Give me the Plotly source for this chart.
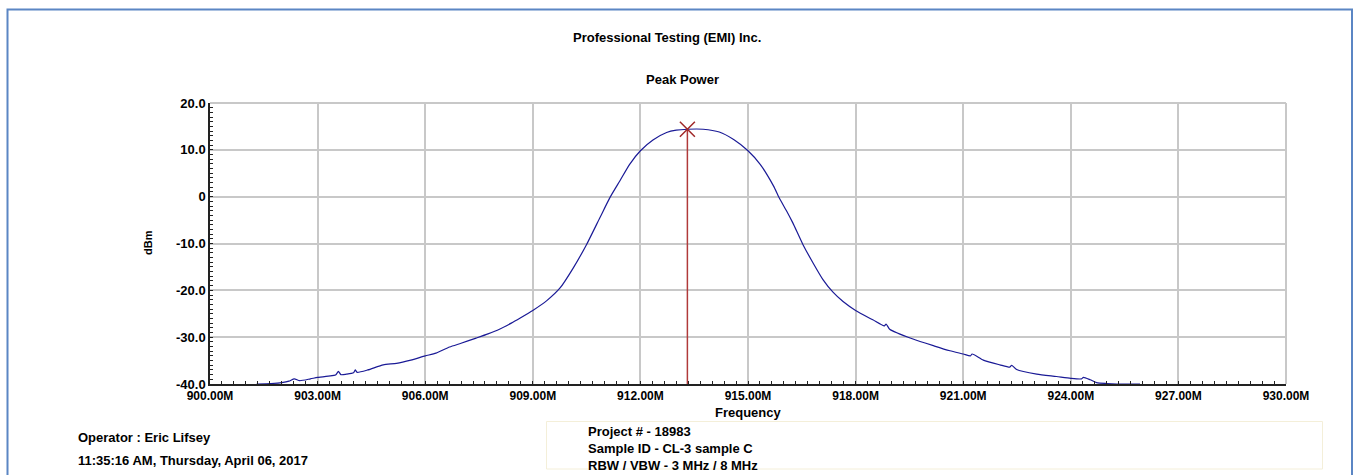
import plotly.graph_objects as go

# ---------------- data ----------------
freq_mhz = [901.3, 901.7, 902.0, 902.2, 902.35, 902.5, 902.8, 903.0, 903.3, 903.5,
            903.58, 903.65, 903.8, 904.0, 904.05, 904.1, 904.4, 904.83, 905.2, 905.6,
            906.0, 906.3, 906.68, 907.0, 907.42, 907.75, 908.07, 908.4, 908.65, 909.0,
            909.39, 909.76, 910.13, 910.5, 910.87, 911.15, 911.43, 911.7, 912.0, 912.35,
            912.73, 913.0, 913.31, 913.75, 914.2, 914.6, 915.0, 915.34, 915.71, 915.88,
            916.08, 916.25, 916.53, 916.81, 917.09, 917.37, 917.65, 918.0, 918.48, 918.8,
            918.85, 918.95, 919.6, 920.2, 920.63, 921.0, 921.2, 921.25, 921.56, 922.02,
            922.3, 922.35, 922.49, 923.05, 923.6, 924.0, 924.3, 924.35, 924.54, 924.72,
            925.0, 925.28, 925.6, 925.93]
power_dbm = [-40.0, -39.9, -39.7, -39.4, -38.9, -39.3, -38.9, -38.6, -38.3, -38.1,
             -37.3, -38.0, -37.9, -37.6, -37.0, -37.5, -37.0, -35.9, -35.6, -34.9,
             -34.0, -33.4, -32.1, -31.3, -30.2, -29.3, -28.3, -27.0, -25.9, -24.3,
             -22.2, -19.5, -15.2, -10.2, -4.5, -0.2, 3.4, 6.9, 9.8, 12.1,
             13.7, 14.2, 14.4, 14.4, 13.8, 12.2, 9.8, 6.9, 2.3, -0.4,
             -3.1, -5.6, -10.2, -14.1, -17.7, -20.4, -22.4, -24.3, -26.3, -27.6,
             -27.2, -28.3, -30.4, -31.9, -32.9, -33.6, -34.0, -33.6, -34.9, -35.9,
             -36.4, -36.0, -36.9, -37.9, -38.4, -38.8, -38.9, -38.6, -39.1, -39.7,
             -39.9, -40.0, -40.0, -40.0]

peak_freq = [913.31]
peak_dbm = [14.4]

x_tickvals = [900, 903, 906, 909, 912, 915, 918, 921, 924, 927, 930]
x_ticktext = ["900.00M", "903.00M", "906.00M", "909.00M", "912.00M", "915.00M",
              "918.00M", "921.00M", "924.00M", "927.00M", "930.00M"]
y_tickvals = [20, 10, 0, -10, -20, -30, -40]
y_ticktext = ["20.0", "10.0", "0", "-10.0", "-20.0", "-30.0", "-40.0"]

title_text = "Professional Testing (EMI) Inc."
subtitle_text = "Peak Power"
x_title = "Frequency"
y_title = "dBm"
operator_lines = ["Operator : Eric Lifsey", "11:35:16 AM, Thursday, April 06, 2017"]
info_lines = ["Project # - 18983", "Sample ID - CL-3 sample C", "RBW / VBW - 3 MHz / 8 MHz"]

# ---------------- layout geometry (pixels) ----------------
W, H = 1354, 475
L, R, T, B = 210, 1286, 103, 384


def px(xp):
    return (xp - L) / (R - L)


def py(yp):
    return (B - yp) / (B - T)


FONT = "Liberation Sans, Arial, sans-serif"
TICKC = "#222222"
grid_col = "#c8c8c8"

fig = go.Figure()
fig.add_trace(go.Scatter(x=freq_mhz, y=power_dbm, mode="lines",
                         line=dict(color="#1a1a96", width=1.2, shape="spline", smoothing=0.6),
                         showlegend=False, hoverinfo="x+y"))
fig.add_trace(go.Scatter(x=[peak_freq[0], peak_freq[0]], y=[peak_dbm[0], y_tickvals[-1]],
                         mode="lines", line=dict(color="#b03a3a", width=1.5),
                         showlegend=False, xaxis="x2", yaxis="y2"))
fig.add_trace(go.Scatter(x=peak_freq, y=peak_dbm, mode="markers",
                         marker=dict(symbol="x-thin", size=15,
                                     line=dict(color="#a02828", width=1.5)),
                         showlegend=False, xaxis="x2", yaxis="y2"))

xr = dict(range=[900, 930], tickvals=x_tickvals)
yr = dict(range=[-40, 20], tickvals=y_tickvals)


def tick_axis(kind, direction, overlay):
    base = xr if kind == "x" else yr
    d = dict(**base, overlaying=overlay, matches=overlay,
             showgrid=False, zeroline=False, showticklabels=False, showline=False,
             ticks=direction, ticklen=(5 if direction == "outside" else 3),
             tickwidth=1.2, tickcolor=TICKC,
             minor=dict(tick0=(900 if kind == "x" else -40),
                        dtick=(1 / 3 if kind == "x" else 1),
                        ticks=direction, ticklen=3, tickcolor=TICKC, tickwidth=1,
                        showgrid=False))
    if kind == "x":
        d.update(anchor="y", side="bottom")
    else:
        d.update(anchor="x", side="left")
    return d


fig.update_layout(
    width=W, height=H, autosize=False,
    margin=dict(l=L, r=W - R, t=T, b=H - B, pad=0),
    paper_bgcolor="white", plot_bgcolor="white",
    font=dict(family=FONT, color="black"),
    xaxis=dict(**xr, ticktext=x_ticktext, showgrid=True, gridcolor=grid_col,
               gridwidth=2, zeroline=False, showline=True, linecolor=TICKC, linewidth=1.5,
               ticks="", tickfont=dict(family=FONT, size=12, weight="bold")),
    yaxis=dict(**yr, ticktext=y_ticktext, showgrid=True, gridcolor=grid_col,
               gridwidth=1.5, zeroline=False, showline=True, linecolor=TICKC, linewidth=1.5,
               ticks="", tickfont=dict(family=FONT, size=13, weight="bold")),
    xaxis2=tick_axis("x", "inside", "x"),
    xaxis3=tick_axis("x", "outside", "x"),
    yaxis2=tick_axis("y", "inside", "y"),
    yaxis3=tick_axis("y", "outside", "y"),
)

shapes = [
    dict(type="line", xref="paper", yref="paper", x0=0, x1=1, y0=1, y1=1,
         line=dict(color=grid_col, width=2), layer="below"),
    dict(type="line", xref="paper", yref="paper", x0=1, x1=1, y0=0, y1=1,
         line=dict(color=grid_col, width=2), layer="below"),
    dict(type="rect", xref="paper", yref="paper", x0=px(7.5), x1=px(1352), y0=py(490), y1=py(9.5),
         line=dict(color="#5b86c4", width=2), fillcolor="rgba(0,0,0,0)"),
    dict(type="rect", xref="paper", yref="paper", x0=px(546.5), x1=px(1322.5), y0=py(469), y1=py(421.5),
         line=dict(color="#f4efd9", width=1), fillcolor="rgba(0,0,0,0)"),
]
fig.update_layout(shapes=shapes)

bold13 = dict(family=FONT, size=13, color="black", weight="bold")
ann = [
    dict(text=title_text, x=px(667), y=py(37), xanchor="center", yanchor="middle", font=bold13),
    dict(text=subtitle_text, x=px(682), y=py(80), xanchor="center", yanchor="middle", font=bold13),
    dict(text=x_title, x=px(748), y=py(412), xanchor="center", yanchor="middle", font=bold13),
    dict(text=y_title, x=px(148), y=py(243), xanchor="center", yanchor="middle", textangle=-90,
         font=dict(family=FONT, size=11, color="black", weight="bold")),
    dict(text=operator_lines[0], x=px(76), y=py(437), xanchor="left", yanchor="middle", font=bold13),
    dict(text=operator_lines[1], x=px(76), y=py(460), xanchor="left", yanchor="middle", font=bold13),
    dict(text=info_lines[0], x=px(586), y=py(431), xanchor="left", yanchor="middle", font=bold13),
    dict(text=info_lines[1], x=px(586), y=py(448), xanchor="left", yanchor="middle", font=bold13),
    dict(text=info_lines[2], x=px(586), y=py(465), xanchor="left", yanchor="middle", font=bold13),
]
for a in ann:
    a.update(xref="paper", yref="paper", showarrow=False)
fig.update_layout(annotations=ann)

fig.write_html("out.html", config={"displayModeBar": False},
               post_script="document.body.style.margin='0';document.body.style.overflow='hidden';")
